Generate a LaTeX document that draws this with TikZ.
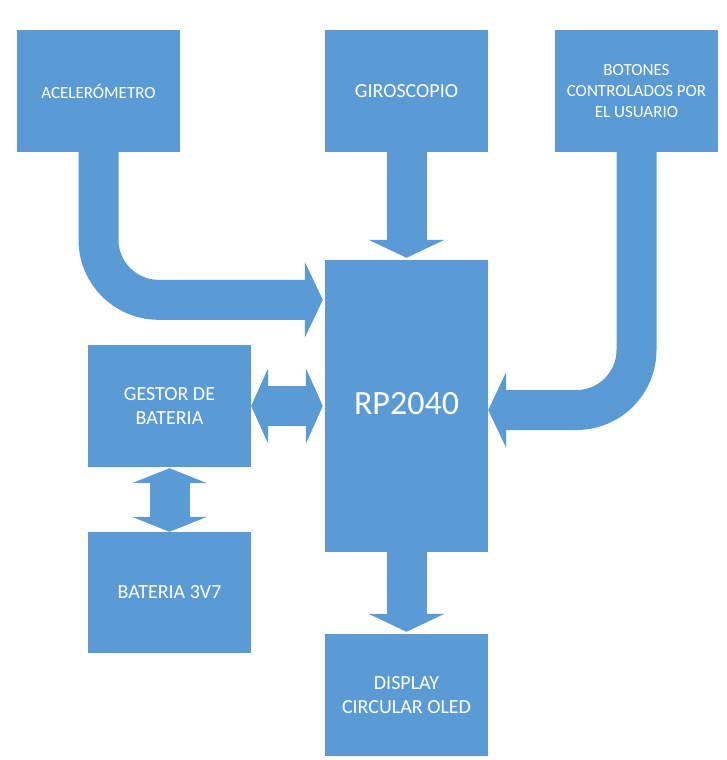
\documentclass[tikz,border=0pt]{standalone}
\usepackage{fontspec}
\setmainfont{Carlito}
\usetikzlibrary{arrows.meta,calc}
\definecolor{officeblue}{RGB}{91,155,213}
\tikzset{
  blockbox/.style={fill=officeblue, draw=none, inner sep=0pt, text=white,
    minimum width=163pt, minimum height=122pt, align=center,
    font=\fontsize{20}{24}\selectfont},
  smalltext/.style={font=\fontsize{17}{21}\selectfont},
  bigarrow/.style={draw=officeblue, line width=40pt, line cap=butt,
    -{Triangle[length=18pt,width=76pt,line width=0pt]}},
  bigdouble/.style={draw=officeblue, line width=40pt, line cap=butt,
    {Triangle[length=17pt,width=76pt,line width=0pt]}-{Triangle[length=17pt,width=76pt,line width=0pt]}}
}
\begin{document}
\begin{tikzpicture}[x=1pt,y=-1pt]
\useasboundingbox[fill=white] (0,0) rectangle (726,760);
\node[blockbox, smalltext] (acel) at (98.5,91) {ACELERÓMETRO};
\node[blockbox] (giro) at (406.5,91) {GIROSCOPIO};
\node[blockbox, smalltext] (boto) at (636.5,91) {BOTONES\\CONTROLADOS POR\\EL USUARIO};
\node[blockbox, minimum height=292pt] (rp) at (406.5,406) {};
\node[font=\fontsize{34}{40}\selectfont, text=white] (rplabel) at (406.5,404) {RP2040};
\node[blockbox] (gest) at (169.5,406) {GESTOR DE\\BATERIA};
\node[blockbox, minimum height=121pt] (bat) at (169.5,592.5) {BATERIA 3V7};
\node[blockbox] (disp) at (406.5,695) {DISPLAY\\CIRCULAR OLED};

\draw[bigarrow, rounded corners=60pt, shorten >=2pt] (acel.south) |- ($(rp.north west)+(0,40)$);
\draw[bigarrow, shorten >=2pt] (giro.south) -- (rp.north);
\draw[bigarrow, rounded corners=60pt] (boto.south) |- ($(rp.east)+(0,4)$);
\draw[bigdouble, shorten >=2pt] (gest.east) -- (gest.east -| rp.west);
\draw[draw=officeblue, line width=40pt, line cap=butt,
  {Triangle[length=15pt,width=75pt,line width=0pt]}-{Triangle[length=15pt,width=75pt,line width=0pt]},
  shorten <=1pt] (gest.south) -- (bat.north);
\draw[bigarrow, shorten >=2pt] (rp.south) -- (disp.north);
\end{tikzpicture}
\end{document}
